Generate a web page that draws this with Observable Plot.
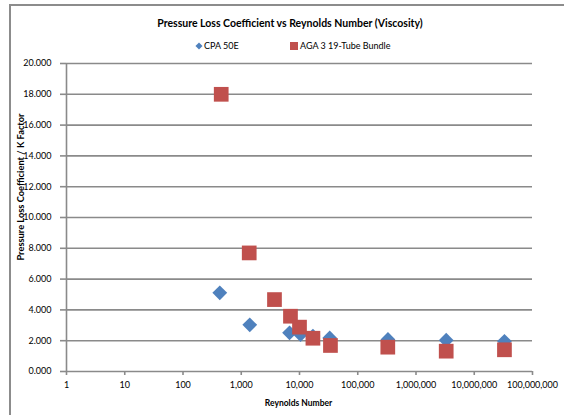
<!DOCTYPE html>
<html>
<head>
<meta charset="utf-8">
<script src="https://cdn.jsdelivr.net/npm/d3@7"></script>
<script src="https://cdn.jsdelivr.net/npm/@observablehq/plot@0.6"></script>
<style>
  html, body { margin: 0; padding: 0; background: #fff; width: 564px; height: 415px; overflow: hidden; }
  #wrap { position: relative; width: 564px; height: 415px; font-family: Lato, "Open Sans", sans-serif; }
  #border { position: absolute; left: 9px; top: 4px; width: 620px; height: 500px; border: 2px solid #8c8c8c; box-sizing: border-box; }
  #title { position: absolute; left: 0; width: 580px; top: 17px; text-align: center; font-weight: bold; font-size: 10.5px; color: #000; }
  .leg { position: absolute; top: 40px; font-size: 9px; color: #000; display: flex; align-items: center; }
  #ytitle { position: absolute; left: 20px; top: 187px; transform: translate(-50%, -50%) rotate(-90deg); white-space: nowrap; font-weight: bold; font-size: 9.3px; color: #000; }
  #chart { position: absolute; left: 0; top: 0; }
</style>
</head>
<body>
<div id="wrap">
  <div id="border"></div>
  <div id="title">Pressure Loss Coefficient vs Reynolds Number (Viscosity)</div>
  <div class="leg" style="left:195px"><svg width="8" height="8" style="margin-right:1px"><rect x="1.5" y="1.5" width="5" height="5" fill="#4F81BD" transform="rotate(45 4 4)"/></svg>CPA 50E</div>
  <div class="leg" style="left:290px"><svg width="9" height="8" style="margin-right:1px"><rect x="0" y="0" width="8" height="8" fill="#C0504D"/></svg>AGA 3 19-Tube Bundle</div>
  <div id="ytitle">Pressure Loss Coefficient / K Factor</div>
  <div id="chart"></div>
</div>
<script>
const reCPA = [428, 1400, 6750, 10400, 17000, 33000, 330000, 3300000, 33000000];
const kCPA  = [5.11, 3.03, 2.51, 2.40, 2.30, 2.18, 2.08, 2.03, 1.96];
const reAGA = [453, 1370, 3720, 7000, 10000, 17000, 34000, 328000, 3300000, 33000000];
const kAGA  = [18.0, 7.7, 4.67, 3.59, 2.88, 2.16, 1.69, 1.58, 1.32, 1.41];
const xTicks = [1, 10, 100, 1000, 10000, 100000, 1000000, 10000000, 100000000];
const yTicks = [0, 2, 4, 6, 8, 10, 12, 14, 16, 18, 20];

const cpa = reCPA.map((re, i) => ({re, k: kCPA[i]}));
const aga = reAGA.map((re, i) => ({re, k: kAGA[i]}));

const gray = "#8a8a8a";

const chart = Plot.plot({
  width: 564,
  height: 415,
  marginLeft: 66,
  marginRight: 32,
  marginTop: 63,
  marginBottom: 44,
  style: {fontFamily: "Lato, 'Open Sans', sans-serif", fontSize: "9px", color: "#000", background: "transparent"},
  x: {type: "log", domain: [1, 1e8]},
  y: {domain: [0, 20]},
  marks: [
    Plot.ruleY(yTicks, {stroke: gray, strokeWidth: 1.6}),
    Plot.ruleX([1], {stroke: gray, strokeWidth: 1.6}),
    Plot.axisY({ticks: yTicks, tickFormat: d3.format(".3f"), tickSize: 6, tickPadding: 9, stroke: gray, strokeWidth: 1.6, label: null, fontSize: 9}),
    Plot.axisX({ticks: xTicks, tickFormat: d3.format(","), tickSize: 4, tickPadding: 6, stroke: gray, strokeWidth: 1.6, label: null, fontSize: 9}),
    Plot.text(["Reynolds Number"], {frameAnchor: "bottom", dy: 34, dx: -1, fontWeight: "bold", fontSize: 8.5}),
    Plot.dot(cpa, {x: "re", y: "k", symbol: "square", r: 5.9, rotate: 45, fill: "#4F81BD", stroke: "none"}),
    Plot.dot(aga, {x: "re", y: "k", symbol: "square", r: 8.3, fill: "#C0504D", stroke: "none"})
  ]
});
document.getElementById("chart").appendChild(chart);
</script>
</body>
</html>
